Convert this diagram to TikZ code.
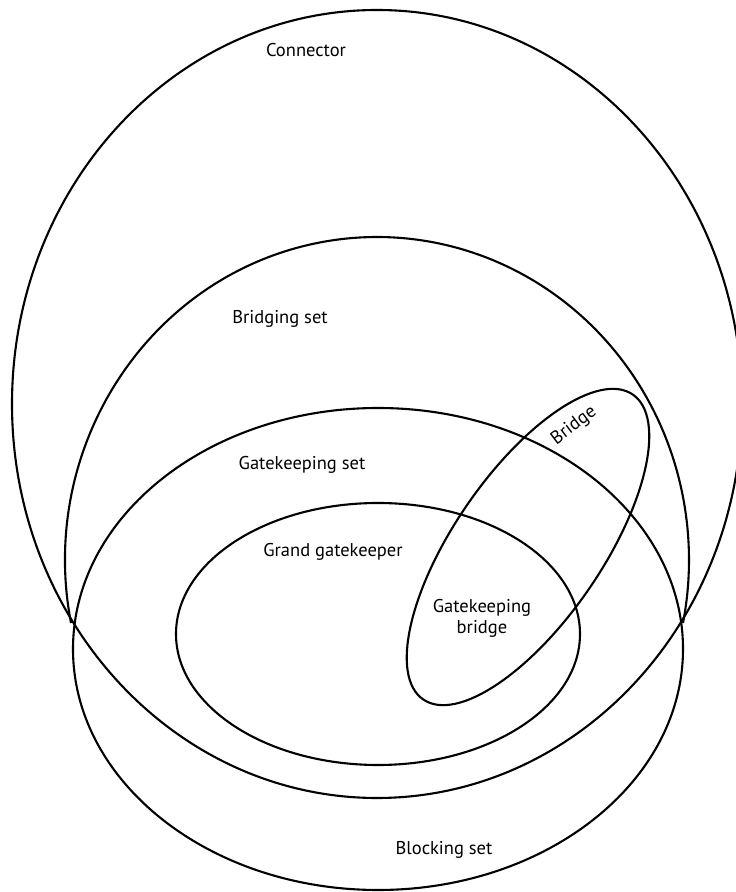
\documentclass[tikz,border=0pt]{standalone}
\usepackage{fontspec}
\setmainfont{PT Sans}
\begin{document}
\begin{tikzpicture}[x=1pt,y=1pt,
    setline/.style={line width=2.1pt},
    setlabel/.style={font=\fontsize{18.5}{21}\selectfont,align=center,inner sep=0pt}]
\useasboundingbox (0,0) rectangle (736,892);
% --- outer sets ---
\draw[setline] (377,488) ellipse[x radius=365,y radius=394];  % connector
\draw[setline] (377,332) ++(191.25:312 and 323) arc[start angle=191.25,end angle=-11.25,x radius=312,y radius=323];  % bridging set (upper arch)
\draw[setline] (378,243) ellipse[x radius=305,y radius=241];  % blocking set
% --- inner sets ---
\draw[setline] (378,258) ellipse[x radius=202,y radius=131];  % grand gatekeeper
\draw[setline,rotate around={55.5:(528,345)}] (528,345) ellipse[x radius=185,y radius=74];  % bridge
% --- labels ---
\node[setlabel] (connector) at (306,842) {Connector};
\node[setlabel] (bridging) at (280,573) {Bridging set};
\node[setlabel] (gatekeeping) at (302,427) {Gatekeeping set};
\node[setlabel] (grand) at (333,340) {Grand gatekeeper};
\node[setlabel] (gkbridge) at (482,274) {Gatekeeping\\bridge};
\node[setlabel,rotate=37] (bridge) at (574,466) {Bridge};
\node[setlabel] (blocking) at (444,42) {Blocking set};
\end{tikzpicture}
\end{document}
